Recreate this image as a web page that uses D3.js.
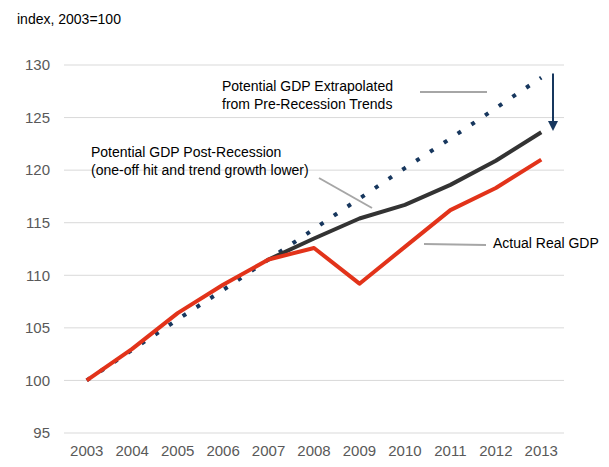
<!DOCTYPE html>
<html>
<head>
<meta charset="utf-8">
<script src="https://cdn.jsdelivr.net/npm/d3@7"></script>
<style>
  body { margin: 0; background: #fff; }
  text { font-family: "Liberation Sans", Arial, sans-serif; }
</style>
</head>
<body>
<div id="chart"></div>
<script>
const years = ["2003","2004","2005","2006","2007","2008","2009","2010","2011","2012","2013"];
const actual = [100, 103.0, 106.4, 109.1, 111.5, 112.6, 109.2, 112.7, 116.2, 118.3, 121.0];
const postRecession = [null, null, null, null, 111.5, 113.5, 115.4, 116.7, 118.6, 120.9, 123.6];
const preTrend = [100, 102.9, 105.8, 108.6, 111.5, 114.4, 117.3, 120.2, 123.0, 125.9, 128.8];
const yTicks = [95, 100, 105, 110, 115, 120, 125, 130];

const W = 609, H = 467;
const svg = d3.select("#chart").append("svg").attr("width", W).attr("height", H);

const x = d3.scaleBand().domain(years).range([64, 564]);
const y = d3.scaleLinear().domain([95, 130]).range([433, 65]);
const cx = d => x(d) + x.bandwidth() / 2;

// gridlines
svg.append("g").selectAll("line").data(yTicks).join("line")
  .attr("x1", 64).attr("x2", 564)
  .attr("y1", d => y(d)).attr("y2", d => y(d))
  .attr("stroke", "#d9d9d9").attr("stroke-width", 1);

// y axis labels
const yAxis = svg.append("g").attr("transform", "translate(50,0)")
  .call(d3.axisLeft(y).tickValues(yTicks).tickSize(0).tickPadding(0));
yAxis.select(".domain").remove();
yAxis.selectAll("text").attr("font-size", 15).attr("fill", "#595959")
  .attr("font-family", "Liberation Sans, Arial, sans-serif");

// x axis labels
const xAxis = svg.append("g").attr("transform", "translate(0,445)")
  .call(d3.axisBottom(x).tickSize(0).tickPadding(0));
xAxis.select(".domain").remove();
xAxis.selectAll("text").attr("font-size", 15).attr("fill", "#595959")
  .attr("font-family", "Liberation Sans, Arial, sans-serif");

svg.append("text").attr("x", 17).attr("y", 24)
  .attr("font-size", 14).attr("fill", "#000").text("index, 2003=100");

const line = d3.line()
  .defined(d => d[1] != null)
  .x(d => cx(d[0])).y(d => y(d[1]));

// pre-recession trend (dotted)
svg.append("path")
  .attr("d", line(years.map((yr, i) => [yr, preTrend[i]])))
  .attr("fill", "none").attr("stroke", "#17375e").attr("stroke-width", 4)
  .attr("stroke-dasharray", "4,12.5");

// post-recession potential
svg.append("path")
  .attr("d", line(years.map((yr, i) => [yr, postRecession[i]])))
  .attr("fill", "none").attr("stroke", "#333333").attr("stroke-width", 4)
  .attr("stroke-linejoin", "round");

// actual
svg.append("path")
  .attr("d", line(years.map((yr, i) => [yr, actual[i]])))
  .attr("fill", "none").attr("stroke", "#e2331a").attr("stroke-width", 4)
  .attr("stroke-linejoin", "round");

// arrow
svg.append("defs").append("marker")
  .attr("id", "arr").attr("viewBox", "0 0 10 10").attr("refX", 5).attr("refY", 5)
  .attr("markerWidth", 5).attr("markerHeight", 5).attr("orient", "auto")
  .append("path").attr("d", "M0,0 L10,5 L0,10 z").attr("fill", "#17375e");
svg.append("line")
  .attr("x1", 553).attr("x2", 553).attr("y1", y(129.2)).attr("y2", y(124.2))
  .attr("stroke", "#17375e").attr("stroke-width", 2)
  .attr("marker-end", "url(#arr)");

// annotations
const leader = (x1, y1, x2, y2) => svg.append("line")
  .attr("x1", x1).attr("y1", y1).attr("x2", x2).attr("y2", y2)
  .attr("stroke", "#a6a6a6").attr("stroke-width", 2);

const label = (xp, yp, lines) => {
  const t = svg.append("text").attr("x", xp).attr("y", yp).attr("font-size", 14).attr("fill", "#000");
  lines.forEach((s, i) => t.append("tspan").attr("x", xp).attr("dy", i ? 18 : 0).text(s));
};

label(222, 91, ["Potential GDP Extrapolated", "from Pre-Recession Trends"]);
leader(420, 92, 487, 92);

label(91, 157, ["Potential GDP Post-Recession", "(one-off hit and trend growth lower)"]);
leader(319, 178, 372, 208);

label(493, 248, ["Actual Real GDP"]);
leader(424, 244, 486, 245);
</script>
</body>
</html>
